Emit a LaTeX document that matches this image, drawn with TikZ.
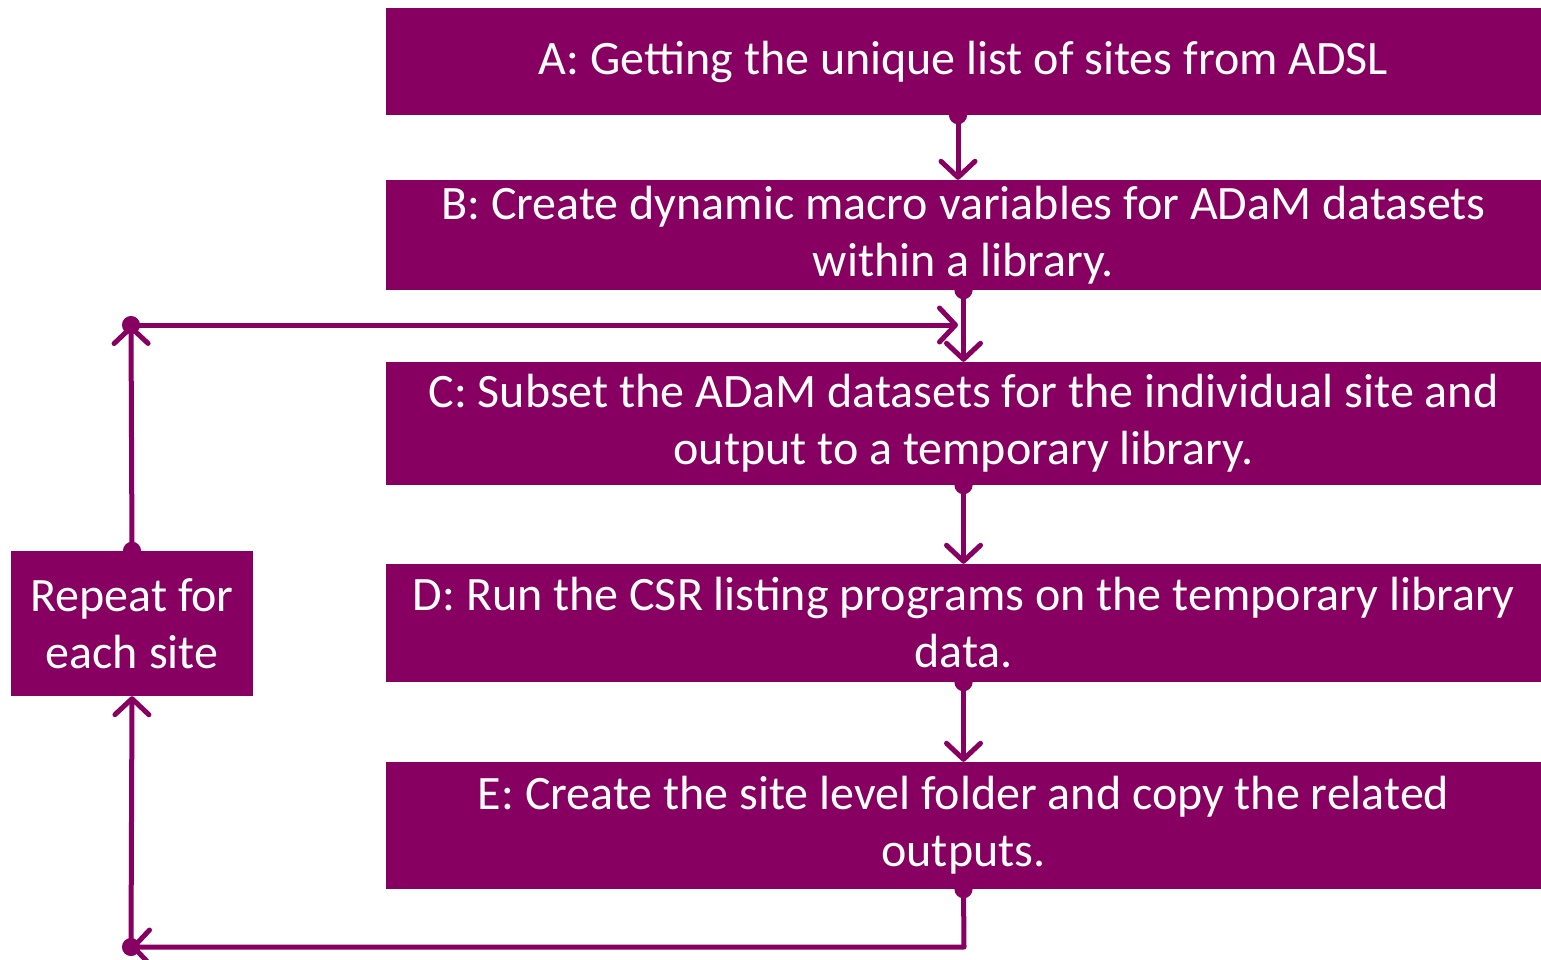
\documentclass[tikz,border=0pt]{standalone}
\usepackage{fontspec}
\setmainfont{Carlito}
\usepackage{tikz}
\usetikzlibrary{arrows.meta}
\definecolor{plum}{HTML}{870061}

\begin{document}
\begin{tikzpicture}
[x=1pt,y=-1pt]
\tikzset{
	stepbox/.style = {rectangle, fill = plum, text = white, align = center, inner sep = 0,
		minimum width = 1155, font = \fontsize{48}{57}\selectfont},
	loopbox/.style = {stepbox, minimum width = 242, minimum height = 145},
	link/.style = {draw = plum, line width = 5, line join = round, shorten <= -9,
		{Circle[length=18,width=18]}-{Straight Barb[length=16,width=34,round,line width=5]}}
}
\useasboundingbox (0,0) rectangle (1541,959);

\node(A) [stepbox, minimum height = 107] at (963.5,61.5) {A: Getting the unique list of sites from ADSL};
\node(B) [stepbox, minimum height = 110] at (963.5,235) {B: Create dynamic macro variables for ADaM datasets\\within a library.};
\node(C) [stepbox, minimum height = 123] at (963.5,423.5) {C: Subset the ADaM datasets for the individual site and\\output to a temporary library.};
\node(D) [stepbox, minimum height = 118] at (963.5,623) {D: Run the CSR listing programs on the temporary library\\data.};
\node(E) [stepbox, minimum height = 127] at (963.5,825.5) {E: Create the site level folder and copy the related\\outputs.};
\node(R) [loopbox] at (132,623.5) {Repeat for\\each site};

\coordinate (top) at (131,325);
\coordinate (join) at (958,325);
\coordinate (low) at (964,947);
\coordinate (corner) at (131,947);

\draw [link] ([xshift=-5.5]A.south) -- ([xshift=-5.5]B.north);
\draw [link] (B.south) -- (C.north);
\draw [link] (C.south) -- (D.north);
\draw [link] (D.south) -- (E.north);
\draw [link] (top) -- (join);
\draw [link] (R.north) -- (top);
\draw [link] (E.south) -- (low) -- (corner);
\draw [link] (corner) -- (R.south);
\end{tikzpicture}
\end{document}
